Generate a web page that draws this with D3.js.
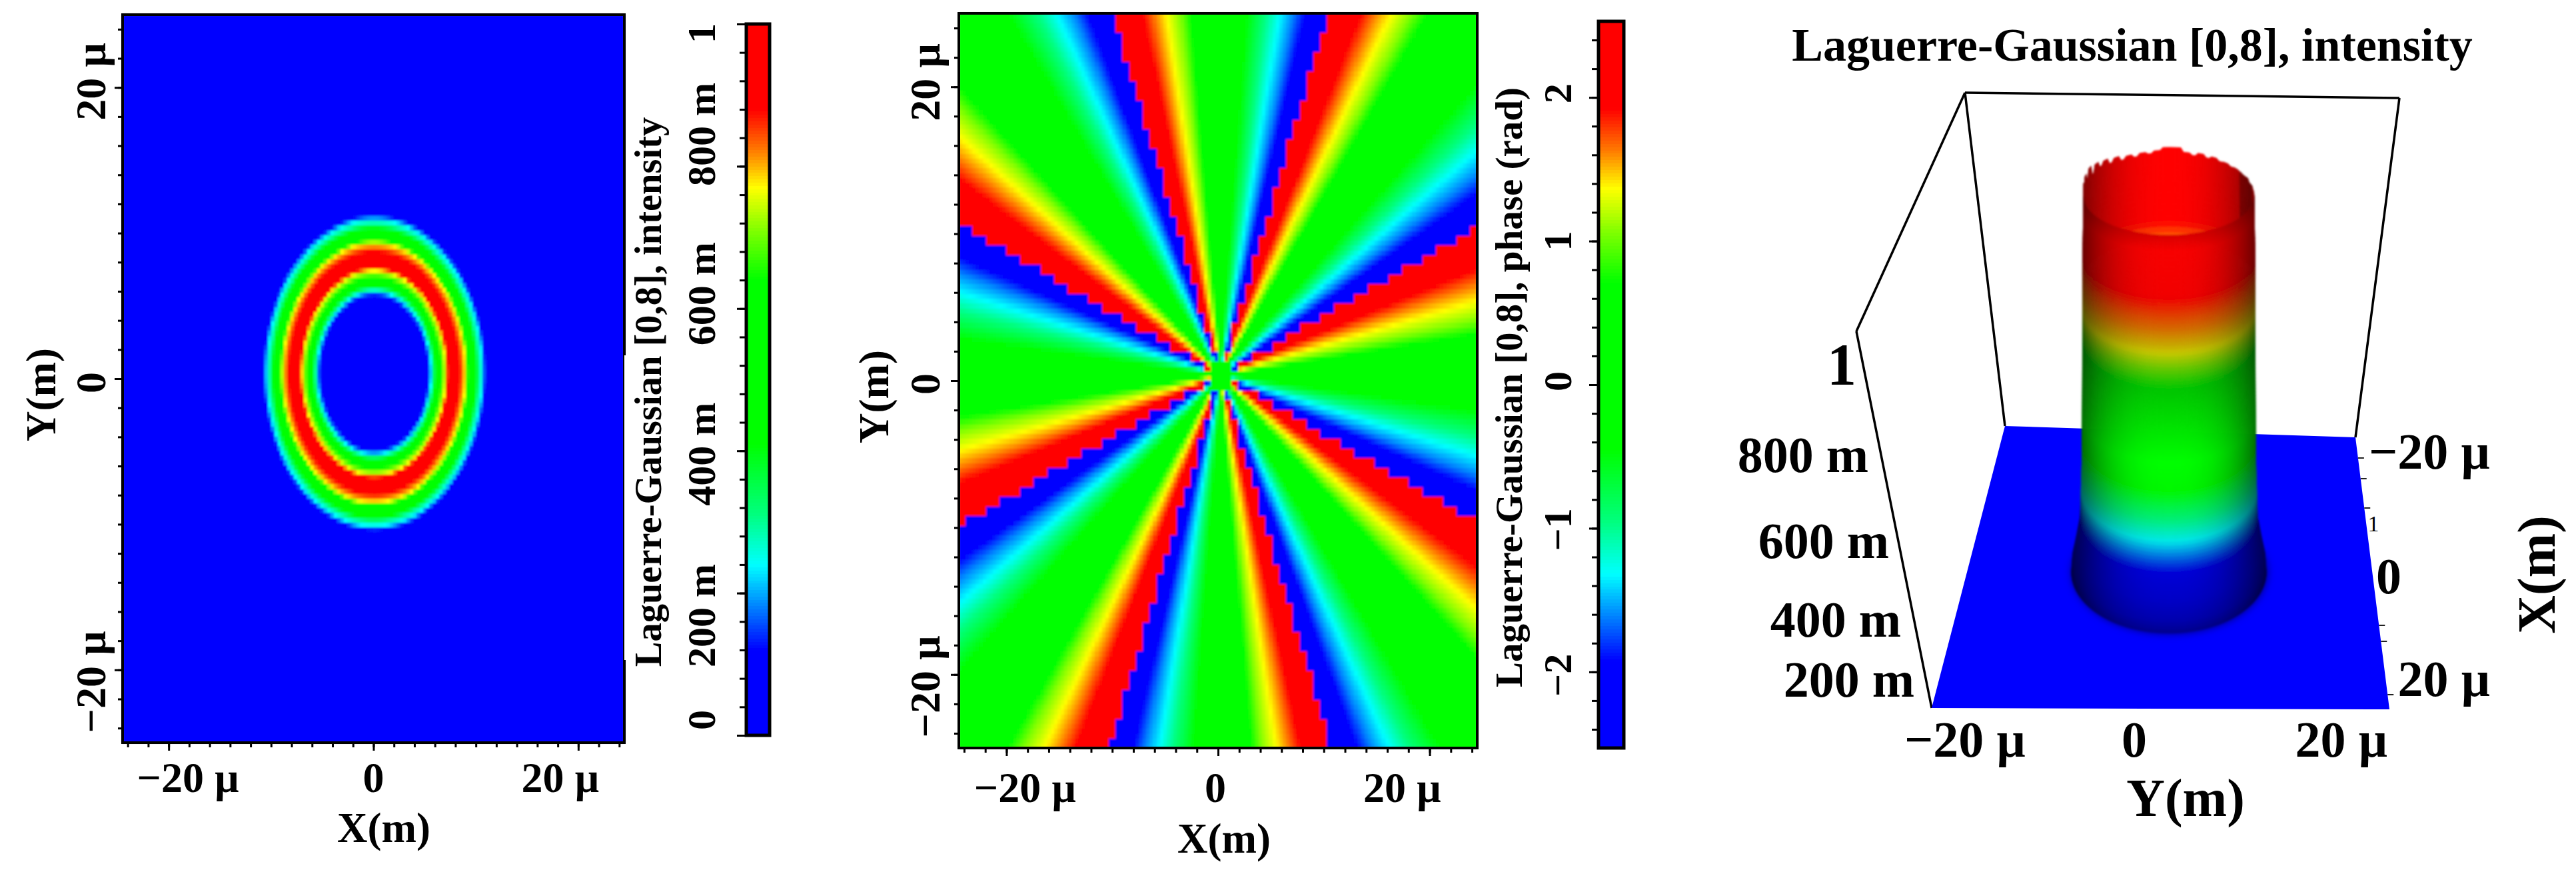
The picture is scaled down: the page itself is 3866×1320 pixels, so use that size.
<!DOCTYPE html>
<html><head><meta charset="utf-8">
<script src="https://cdn.jsdelivr.net/npm/d3@7"></script>
<style>html,body{margin:0;background:#fff}svg{display:block}text{font-family:"Liberation Serif",serif;font-weight:bold;fill:#000}</style>
</head><body><svg id="c" width="3866" height="1320"></svg>
<script>
// Colour map
const cmapStops=[0,.12,.18,.24,.31,.41,.64,.71,.77,.82,.88,1];
const cmapColors=["#0000ff","#0000ff","#0080ff","#00ffff","#00ff80","#00ff00","#00ff00","#80ff00","#ffff00","#ff8000","#ff0000","#ff0000"];
// Ring profile: radius (micron) and intensity along a radial cut
const profileR=[4.9,5.2,5.43,5.61,5.97,6.52,7.0,7.2,7.7,8.33,8.9,9.14,9.95,10.2,10.5,10.8,11.1];
const profileI=[0,.08,.16,.24,.4,.63,.77,.88,1,.88,.77,.63,.4,.3,.24,.12,0];
// Phase map: eight red/blue cuts around a green core
const phaseCuts=8, phaseCoreRadius=1.1, phaseMax=2.53;
// Colour position across one sector, read along the top edge of the phase map
const sectorFrac=[0,.13,.185,.24,.305,.355,.625,.785,.85,.9,1];
const sectorLevel=[1,.88,.82,.77,.71,.64,.41,.24,.18,.12,0];
// Axes
const domainX=24.5, domainY=25, minorStep=2;
const spatialTicks=[-20,0,20], spatialLabels=["\u221220 \u00b5","0","20 \u00b5"];
const intensityTicks=[0,.2,.4,.6,.8,1], intensityLabels=["0","200 m","400 m","600 m","800 m","1"];
const phaseTicks=[-2,-1,0,1,2], phaseLabels=["\u22122","\u22121","0","1","2"];
const zLabels=["200 m","400 m","600 m","800 m","1"];
const intensityTitle="Laguerre-Gaussian [0,8], intensity", phaseTitle="Laguerre-Gaussian [0,8], phase (rad)";
// 3D column silhouette
const wallLevels=[0,.05,.1,.15,.3,.5,.85,1];
const wallRadius=[11,10.85,10.4,10,9.8,9.75,9.7,9.62];
// Height on the column against colour-map level, read down its front
const wallZ=[0,.14,.22,.35,.61,.7,.76,.84,1];
const wallColorLevel=[0,.12,.24,.41,.64,.77,.82,.88,1];
const lightLevels=[0,.03,.08,.2,.3,.42,.6,.72,.85,.96,1];
const lightValues=[.55,.68,.78,.9,.95,1,.78,.78,.95,.97,.85];
const rimJitter=[.03,.02,.035,.02,.04,.015,.035,.02,.03,.015,.025,.012,.02,.012,.02,.015,.022,.03,.03,.03,.018,.012,.02,.012,.018,.012,.014,.01,.012,.01,.008,.01,.004,.006,.002,0];

const svg=d3.select("#c");
const defs=svg.append("defs");
defs.append("filter").attr("id","soft").append("feGaussianBlur").attr("stdDeviation",1.6);
defs.append("filter").attr("id","wide").append("feGaussianBlur").attr("stdDeviation",6);
const cmap=d3.scaleLinear().domain(cmapStops).range(cmapColors).interpolate(d3.interpolateRgb).clamp(true);
const ringValue=d3.scaleLinear().domain(profileR).range(profileI).clamp(true);
const sectorColor=d3.scaleLinear().domain(sectorFrac).range(sectorLevel).clamp(true);
const wallColor=d3.scaleLinear().domain(wallZ).range(wallColorLevel).clamp(true);
const coarseN=76, fine=2, N=coarseN*fine, cells=d3.range(N);

function label(g,list){
  g.selectAll(null).data(list).join("text")
   .attr("text-anchor","middle").attr("dominant-baseline","central")
   .attr("transform",d=>`translate(${d.x},${d.y})`+(d.r?" rotate(-90)":""))
   .style("font-size",d=>d.s+"px").style("font-weight",d=>d.w||"bold").text(d=>d.t);
}
function panel(o){
  const g=svg.append("g");
  const x=d3.scaleLinear([-domainX,domainX],[o.x0,o.x1]);
  const y=d3.scaleLinear([-domainY,domainY],[o.y1,o.y0]);
  const cw=(o.x1-o.x0)/N, ch=(o.y1-o.y0)/N;
  const pts=d3.cross(cells,cells).map(([i,j])=>{
     const vx=-domainX+(i+.5)*2*domainX/N, vy=-domainY+(j+.5)*2*domainY/N;
     const cxv=-domainX+(Math.floor(i/fine)+.5)*2*domainX/coarseN, cyv=-domainY+(Math.floor(j/fine)+.5)*2*domainY/coarseN;
     return {vx,vy,v:o.value(vx,vy,cxv,cyv)};
  }).filter(d=>d.v!==o.skip);
  const h=g.append("g").attr("filter","url(#soft)");
  h.append("rect").attr("x",o.x0).attr("y",o.y0).attr("width",o.x1-o.x0).attr("height",o.y1-o.y0).attr("fill",cmap(o.skip===undefined?.5:o.skip));
  h.append("g").attr("shape-rendering","crispEdges")
   .selectAll("rect").data(pts).join("rect")
   .attr("x",d=>x(d.vx)-cw/2-.3).attr("y",d=>y(d.vy)-ch/2-.3)
   .attr("width",cw+.6).attr("height",ch+.6)
   .attr("fill",d=>cmap(d.v));
  g.append("rect").attr("x",o.x0).attr("y",o.y0).attr("width",o.x1-o.x0).attr("height",o.y1-o.y0)
   .attr("fill","none").attr("stroke","#000").attr("stroke-width",4);
  const minors=d3.range(-24,25,minorStep);
  const ax=(gen,tx,vals,len)=>g.append("g").attr("transform",tx).call(gen.tickValues(vals).tickSize(len).tickFormat("")).call(s=>{s.select(".domain").remove();s.selectAll("line").attr("stroke","#000").attr("stroke-width",3)});
  ax(d3.axisLeft(y),`translate(${o.x0},0)`,minors,7);
  ax(d3.axisLeft(y),`translate(${o.x0},0)`,spatialTicks,12);
  ax(d3.axisBottom(x),`translate(0,${o.y1})`,minors,7);
  ax(d3.axisBottom(x),`translate(0,${o.y1})`,spatialTicks,12);
  if(o.cover) g.append("rect").attr("x",o.x1).attr("y",o.cover[0]).attr("width",4).attr("height",o.cover[1]-o.cover[0]).attr("fill","#fff");
  // tick labels are nudged along the axis as in the picture
  label(g,spatialTicks.map((v,k)=>({t:spatialLabels[k],x:x(v)+o.xNudge[k],y:o.xLabelY,s:o.tick})));
  label(g,spatialTicks.map((v,k)=>({t:spatialLabels[k],x:o.yLabelX,y:y(v)+o.yNudge[k],s:o.tick,r:1})));
  label(g,[{t:"X(m)",x:o.xTitle[0],y:o.xTitle[1],s:o.title},{t:"Y(m)",x:o.yTitle[0],y:o.yTitle[1],s:o.title,r:1}]);
  // colour bar
  const b=d3.scaleLinear(o.barDomain,[o.by1,o.by0]);
  const bn=d3.range(220);
  const bh=(o.by1-o.by0)/220;
  g.append("g").attr("shape-rendering","crispEdges").selectAll("rect").data(bn).join("rect")
   .attr("x",o.bx0).attr("width",o.bx1-o.bx0).attr("y",d=>o.by1-(d+1)*bh-.3).attr("height",bh+.6)
   .attr("fill",d=>cmap((d+.5)/220));
  g.append("rect").attr("x",o.bx0).attr("y",o.by0).attr("width",o.bx1-o.bx0).attr("height",o.by1-o.by0)
   .attr("fill","none").attr("stroke","#000").attr("stroke-width",5);
  ax(d3.axisLeft(b),`translate(${o.bx0},0)`,o.barMinor,10);
  ax(d3.axisLeft(b),`translate(${o.bx0},0)`,o.barTicks,14);
  label(g,o.barTicks.map((v,k)=>({t:o.barLabels[k],x:o.barLabelX,y:b(v)+o.barNudge[k],s:o.barSize,r:1})));
  label(g,[{t:o.barTitle,x:o.barTitlePos[0],y:o.barTitlePos[1],s:o.barTitleSize,r:1}]);
}
// Left panel: each cell looks up its radius in the profile
panel({x0:184,x1:937,y0:22,y1:1114,tick:64,title:63,xNudge:[29,0,-27],yNudge:[18,6,-9],xLabelY:1166,yLabelX:136,
  xTitle:[576,1242],yTitle:[62,592],skip:0,
  value:(a,b)=>ringValue(Math.hypot(a-.1,b-.4)),cover:[533,990],
  barDomain:[0,1],bx0:1120,bx1:1155,by0:36,by1:1103,barMinor:d3.range(0,1.01,.04),barTicks:intensityTicks,barLabels:intensityLabels,
  barNudge:[-23,34,5,-22,-48,14],barLabelX:1053,barSize:60,barTitle:intensityTitle,barTitlePos:[973,588],barTitleSize:56.5});
// Middle panel: the colour varies smoothly, the red/blue cut follows the coarse grid
const wrap=p=>Math.atan2(Math.sin(p),Math.cos(p));
panel({x0:1439,x1:2217,y0:20,y1:1122,tick:64,title:63,xNudge:[28,-4,-41],yNudge:[18,5,-7],xLabelY:1181,yLabelX:1388,
  xTitle:[1837,1258],yTitle:[1312,595],
  value:(a,b,ca,cb)=>{const dx=a-.25,dy=b-.4,cdx=ca-.25,cdy=cb-.4;
    if(Math.hypot(cdx,cdy)<phaseCoreRadius) return .5;
    const pc=Math.atan2(cdy,cdx)*phaseCuts, pf=Math.atan2(dy,dx)*phaseCuts;
    const w=Math.max(-Math.PI,Math.min(Math.PI,wrap(pc)+wrap(pf-pc)));
    return sectorColor((Math.PI-w)/(2*Math.PI));},
  barDomain:[-phaseMax,phaseMax],bx0:2399,bx1:2437,by0:32,by1:1122,barMinor:d3.range(-2.4,2.5,.2),barTicks:phaseTicks,barLabels:phaseLabels,
  barNudge:[5,2,-5,0,-6],barLabelX:2338,barSize:60,barTitle:phaseTitle,barTitlePos:[2264,581],barTitleSize:57});

// Right panel: 3D view
const p3=svg.append("g");
label(p3,[{t:intensityTitle,x:3200,y:67,s:70}]);
const boxCorners={tl:[2949,139],tr:[3601,147],left:[2786,497],backL:[3009,639],backR:[3535,656],frontL:[2899,1062],frontR:[3586,1064]};
const c=boxCorners;
p3.selectAll(null).data([[c.tl,c.tr],[c.tl,c.backL],[c.tr,c.backR],[c.tl,c.left],[c.left,c.frontL]]).join("path")
  .attr("d",d=>d3.line()(d)).attr("stroke","#000").attr("stroke-width",3.5).attr("fill","none");
p3.append("path").attr("d",d3.line()([c.backL,c.backR,c.frontR,c.frontL])+"Z").attr("fill","#0000ff");
// small tick remnants on the right floor edge
const floorEdge=[687,718,762,938,962,1042];
const edgeX=d3.scaleLinear([656,1064],[3535,3586]);
p3.selectAll(null).data(floorEdge).join("line").attr("x1",d=>edgeX(d)).attr("x2",d=>edgeX(d)+9).attr("y1",d=>d).attr("y2",d=>d).attr("stroke","#222").attr("stroke-width",2);

const cy=d3.scaleLinear([0,1],[858,295]);
const depth=d3.scaleLinear([0,1],[8.35,6]);
const wr=d3.scaleLinear(wallLevels,wallRadius);
const widthScale=13.3, cxW=3255;
const light=d3.scaleLinear(lightLevels,lightValues).clamp(true);
const proj=(th,z)=>{const r=wr(Math.min(z,1));return [cxW+widthScale*r*Math.cos(th),cy(z)+depth(z)*r*Math.sin(th)];};
const shade=(col,k)=>{const q=d3.rgb(col);return d3.rgb(q.r*k,q.g*k,q.b*k)+"";};
const wall=p3.append("g").attr("filter","url(#soft)");
// dark foot of the column
wall.append("ellipse").attr("cx",cxW+1).attr("cy",cy(0)).attr("rx",widthScale*wr(0)+1).attr("ry",depth(0)*wr(0)+1)
   .attr("fill","#00008c").attr("filter","url(#wide)");
const TH=90, ZN=110;
const quads=[];
// inner far wall, from rim down
d3.range(TH).forEach(i=>{d3.range(0,14).forEach(j=>{
  const a0=Math.PI+i/TH*Math.PI,a1=Math.PI+(i+1)/TH*Math.PI;
  const ji=k=>rimJitter[Math.min(35,Math.floor(k*36/TH))];
  const jit=j==0?[ji(i),ji(i+1)]:[0,0];
  const z0=1-j*.016,z1=1-(j+1)*.016;
  const m=(a0+a1)/2;
  const late=1-.5*Math.pow(Math.abs(Math.cos(m)),2.2);
  const rr=i/TH>.8&&i/TH<.93?.72:1;
  quads.push({pts:[proj(a0,z1),proj(a1,z1),[proj(a1,z0)[0],proj(a1,z0+jit[1])[1]],[proj(a0,z0)[0],proj(a0,z0+jit[0])[1]]],
    col:shade(cmap(z1+.065),late*rr)});
});});
// outer front wall
d3.range(TH).forEach(i=>{d3.range(ZN).forEach(j=>{
  const a0=i/TH*Math.PI,a1=(i+1)/TH*Math.PI,z0=j/ZN,z1=(j+1)/ZN,m=(a0+a1)/2,zm=(z0+z1)/2;
  const late=1-.55*Math.pow(Math.abs(Math.cos(m)),2.6);
  const jag=zm>.985&&i/TH>.55&&i/TH<.75&&rimJitter[Math.floor(i*36/TH)]>.02?.7:1;
  quads.push({pts:[proj(a0,z0),proj(a1,z0),proj(a1,z1),proj(a0,z1)],col:shade(cmap(wallColor(zm)),late*light(zm)*jag)});
});});
wall.selectAll("path").data(quads).join("path").attr("d",d=>d3.line()(d.pts)+"Z").attr("fill",d=>d.col).attr("stroke",d=>d.col).attr("stroke-width",1);

label(p3,zLabels.map((t,k)=>({t,x:[2775,2755,2737,2706,2764][k],y:[1019,929,811,682,546][k],s:t=="1"?88:76})));
label(p3,spatialLabels.map((t,k)=>({t,x:[2949,3203,3514][k],y:1109,s:76})));
label(p3,[{t:spatialLabels[0],x:3646,y:677,s:76},{t:"0",x:3585,y:864,s:76},{t:spatialLabels[2],x:3668,y:1018,s:76},
  {t:"Y(m)",x:3280,y:1197,s:80},{t:"X(m)",x:3807,y:862,s:80,r:1},{t:"1",x:3562,y:785,s:34,w:"normal"}]);
</script></body></html>
